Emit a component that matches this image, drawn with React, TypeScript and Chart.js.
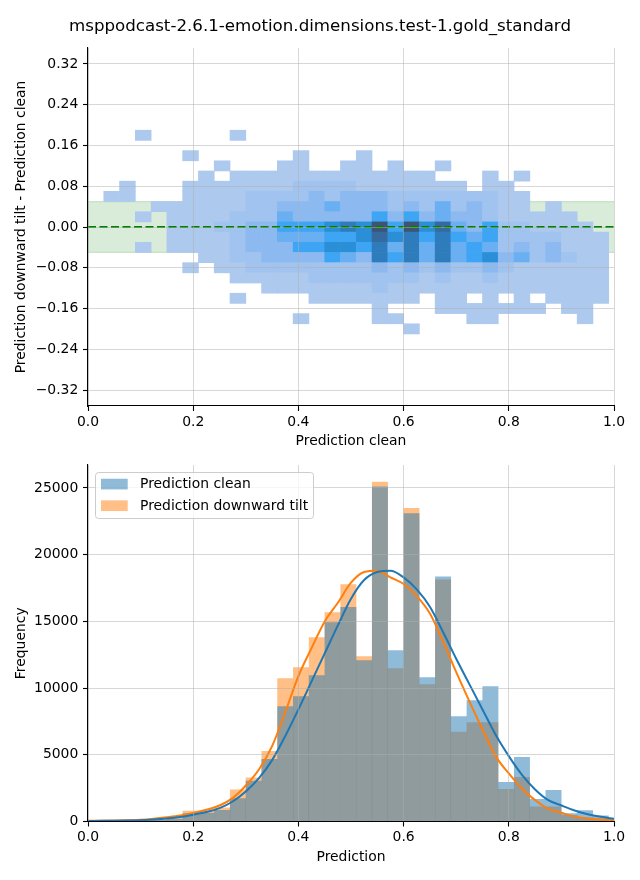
import React, { useEffect, useRef } from "react";
import { Chart, registerables } from "chart.js";

Chart.register(...registerables);

const FONT_FAMILY = "'DejaVu Sans', 'Liberation Sans', Arial, sans-serif";
const FS = 13.9;
const GRID_COLOR = "rgba(176,176,176,0.5)";

// ---------- texts ----------
const titleText = "msppodcast-2.6.1-emotion.dimensions.test-1.gold_standard";
const seriesNames = ["Prediction clean", "Prediction downward tilt"];

// ---------- ticks ----------
const xTicks = [0, 0.2, 0.4, 0.6, 0.8, 1.0];
const diffTicks = [-0.32, -0.24, -0.16, -0.08, 0, 0.08, 0.16, 0.24, 0.32];
const freqTicks = [0, 5000, 10000, 15000, 20000, 25000];

// ---------- bins ----------
const binWidth = 0.03; // x bins of both plots
const diffBinHeight = 0.02; // y bins of the 2D histogram

// ---------- 2D histogram (top) ----------
const diffRowCenters = [
  0.18, 0.16, 0.14, 0.12, 0.1, 0.08, 0.06, 0.04, 0.02, 0.0,
  -0.02, -0.04, -0.06, -0.08, -0.1, -0.12, -0.14, -0.16, -0.18, -0.2,
];
// each row: segments [first x-bin index, density levels 1..9 for consecutive bins]
const heatRows: [number, string][][] = [
  [[3, "1"], [9, "1"]],
  [],
  [[6, "1"], [13, "1"], [17, "1"]],
  [[8, "1"], [12, "11"], [16, "11"], [19, "1"], [22, "1"]],
  [[7, "1"], [9, "1111111111111"], [25, "1"], [27, "1"]],
  [[2, "1"], [6, "111111122221111111"], [25, "11"]],
  [[1, "11"], [6, "1111222232333222222211"]],
  [[4, "111111223334333232423211"], [29, "1"]],
  [[3, "1"], [5, "11112224333335353433211111"]],
  [[5, "111223355567695968435221111"]],
  [[5, "1111233444556867575452222111"]],
  [[3, "1"], [5, "1111233355665747474542323111"]],
  [[7, "11223333543757474563423211"]],
  [[6, "1"], [8, "1122222222323232232111111"]],
  [[9, "111112222222121121111111"]],
  [[11, "1111111211111111111111"]],
  [[9, "1"], [14, "1111111"], [22, "11"], [25, "1"], [27, "1"], [29, "1111"]],
  [[18, "1"], [22, "1111111"], [30, "11"]],
  [[13, "1"], [18, "11"], [24, "11"], [31, "1"]],
  [[20, "1"]],
];
const levelColors = [
  "#adc9ee", "#a0c3ef", "#8cbaf0", "#6aaff2", "#3ea5f5",
  "#2b8fd8", "#2f7cbc", "#366a9f", "#3d5473",
];
const bandHalfWidth = 0.05;

// ---------- 1D histograms (bottom) ----------
const cleanCounts = [
  15, 25, 40, 70, 120, 200, 620, 640, 860, 1730, 3050, 4680, 8640, 9390, 10960,
  14920, 16070, 12080, 25100, 12830, 23100, 10800, 18360, 7880, 9090, 10130,
  2950, 4830, 1680, 2360, 620, 830, 450, 250,
];
const tiltCounts = [
  20, 30, 50, 90, 150, 260, 790, 800, 1035, 2400, 3300, 5270, 10730, 11560,
  13800, 15670, 17770, 12380, 25470, 11480, 23500, 10290, 18140, 6720, 7440,
  7440, 2430, 3330, 1110, 1110, 480, 300, 200, 100,
];
const kdeX = [
  0, 0.025, 0.05, 0.075, 0.1, 0.125, 0.15, 0.175, 0.2, 0.225, 0.25, 0.275, 0.3,
  0.325, 0.35, 0.375, 0.4, 0.425, 0.45, 0.475, 0.5, 0.525, 0.55, 0.575, 0.6,
  0.625, 0.65, 0.675, 0.7, 0.725, 0.75, 0.775, 0.8, 0.825, 0.85, 0.875, 0.9,
  0.925, 0.95, 0.975, 1.0,
];
const kdeClean = [
  40, 50, 60, 75, 100, 155, 230, 340, 510, 710, 1000, 1500, 2250, 3250, 4600,
  6400, 8400, 10500, 12600, 14700, 16700, 18100, 18700, 18800, 18300, 17400,
  16100, 14200, 12200, 10300, 8400, 6500, 4900, 3500, 2400, 1600, 1200, 830,
  550, 350, 200,
];
const kdeTilt = [
  50, 60, 75, 95, 130, 210, 320, 450, 640, 880, 1200, 1750, 2700, 3900, 5650,
  8200, 10900, 13000, 15000, 16400, 17900, 18700, 18800, 18300, 17800, 16900,
  15600, 13500, 11200, 9000, 6900, 4900, 3600, 2450, 1600, 950, 650, 380, 220,
  150, 100,
];

const BLUE = "#1f77b4";
const ORANGE = "#ff7f0e";
const BLUE_A = "rgba(31,119,180,0.5)";
const ORANGE_A = "rgba(255,127,14,0.5)";

function fmtMinus(s: string) {
  return s.replace("-", "\u2212");
}

function xScale(title: string, axisHeight: number, titlePadBottom: number) {
  return {
    type: "linear",
    min: 0,
    max: 1,
    offset: false,
    grid: {
      offset: false,
      color: GRID_COLOR,
      lineWidth: 1,
      z: 1,
      drawTicks: true,
      tickLength: 5,
      tickColor: "#000",
      tickWidth: 1.1,
    },
    border: { display: true, color: "#000", width: 1.1, z: 2 },
    ticks: {
      autoSkip: false,
      maxRotation: 0,
      padding: 3,
      color: "#000",
      font: { size: FS, family: FONT_FAMILY },
      callback: (v: any) => Number(v).toFixed(1),
    },
    afterBuildTicks: (s: any) => {
      s.ticks = xTicks.map((v) => ({ value: v }));
    },
    afterFit: (s: any) => {
      s.height = axisHeight;
    },
    title: {
      display: true,
      text: title,
      color: "#000",
      font: { size: FS, family: FONT_FAMILY },
      padding: { top: 0, bottom: titlePadBottom },
    },
  };
}

function yScale(
  title: string,
  min: number,
  max: number,
  tickVals: number[],
  fmt: (v: number) => string
) {
  return {
    type: "linear",
    min,
    max,
    grid: {
      color: GRID_COLOR,
      lineWidth: 1,
      z: 1,
      drawTicks: true,
      tickLength: 5,
      tickColor: "#000",
      tickWidth: 1.1,
    },
    border: { display: true, color: "#000", width: 1.1, z: 2 },
    ticks: {
      autoSkip: false,
      padding: 4.7,
      color: "#000",
      font: { size: FS, family: FONT_FAMILY },
      callback: (v: any) => fmt(Number(v)),
    },
    afterBuildTicks: (s: any) => {
      s.ticks = tickVals.map((v) => ({ value: v }));
    },
    afterFit: (s: any) => {
      s.width = 88;
    },
    title: {
      display: true,
      text: title,
      color: "#000",
      font: { size: FS, family: FONT_FAMILY },
      padding: { top: 12.7, bottom: 0 },
    },
  };
}

const boxLegend = {
  id: "boxLegend",
  afterDraw(chart: any) {
    const { ctx, chartArea } = chart;
    const x0 = chartArea.left + 7.5;
    const y0 = chartArea.top + 7.5;
    const w = 218;
    const h = 46;
    const items = [
      { label: seriesNames[0], color: BLUE_A },
      { label: seriesNames[1], color: ORANGE_A },
    ];
    ctx.save();
    ctx.beginPath();
    if (ctx.roundRect) ctx.roundRect(x0, y0, w, h, 3);
    else ctx.rect(x0, y0, w, h);
    ctx.fillStyle = "rgba(255,255,255,0.8)";
    ctx.fill();
    ctx.lineWidth = 1;
    ctx.strokeStyle = "#cccccc";
    ctx.stroke();
    items.forEach((it, i) => {
      const py = y0 + 6.2 + i * 21.6;
      ctx.fillStyle = it.color;
      ctx.fillRect(x0 + 5.5, py, 26.7, 10.7);
      ctx.fillStyle = "#000";
      ctx.font = `${FS}px ${FONT_FAMILY}`;
      ctx.textBaseline = "middle";
      ctx.textAlign = "left";
      ctx.fillText(it.label, x0 + 44.5, py + 5.6);
    });
    ctx.restore();
  },
};

export default function App() {
  const topRef = useRef<HTMLCanvasElement>(null);
  const botRef = useRef<HTMLCanvasElement>(null);

  useEffect(() => {
    Chart.defaults.font.family = FONT_FAMILY;
    Chart.defaults.font.size = FS;
    Chart.defaults.color = "#000";

    // --- build heat cells ---
    const cells: any[] = [];
    const cellColors: string[] = [];
    heatRows.forEach((segs, r) => {
      const v = diffRowCenters[r];
      segs.forEach(([start, lv]) => {
        for (let i = 0; i < lv.length; i++) {
          const k = start + i;
          cells.push({
            x: (k + 0.5) * binWidth,
            y: [v - diffBinHeight / 2, v + diffBinHeight / 2],
          });
          cellColors.push(levelColors[Number(lv[i]) - 1]);
        }
      });
    });

    const top = new Chart(topRef.current as HTMLCanvasElement, {
      type: "bar",
      data: {
        datasets: [
          {
            type: "line",
            label: "zero",
            data: [
              { x: 0, y: 0 },
              { x: 1, y: 0 },
            ],
            borderColor: "#008000",
            borderWidth: 2,
            borderDash: [8, 3.5],
            pointRadius: 0,
            fill: false,
            order: 0,
          } as any,
          {
            type: "bar",
            label: "2D histogram",
            data: cells,
            backgroundColor: cellColors,
            borderWidth: 0,
            grouped: false,
            barPercentage: 1,
            categoryPercentage: 1,
            order: 1,
          } as any,
          {
            type: "line",
            label: "band",
            data: [
              { x: 0, y: bandHalfWidth },
              { x: 1, y: bandHalfWidth },
            ],
            borderColor: "rgba(0,128,0,0.15)",
            borderWidth: 1.3,
            backgroundColor: "rgba(0,128,0,0.15)",
            fill: { value: -bandHalfWidth },
            pointRadius: 0,
            order: 2,
          } as any,
          {
            type: "line",
            label: "band-edge",
            data: [
              { x: 0, y: -bandHalfWidth },
              { x: 1, y: -bandHalfWidth },
            ],
            borderColor: "rgba(0,128,0,0.15)",
            borderWidth: 1.3,
            fill: false,
            pointRadius: 0,
            order: 2,
          } as any,
        ],
      },
      options: {
        responsive: false,
        animation: false,
        events: [],
        layout: { padding: { top: 48, right: 26, bottom: 0, left: 0 } },
        plugins: {
          legend: { display: false },
          tooltip: { enabled: false },
          title: { display: false },
        },
        scales: {
          x: xScale("Prediction clean", 46, 2.7) as any,
          y: yScale(
            "Prediction downward tilt - Prediction clean",
            -0.3514,
            0.3514,
            diffTicks,
            (v) => (Math.abs(v) < 1e-9 ? "0.00" : fmtMinus(v.toFixed(2)))
          ) as any,
        },
      },
    });

    const bot = new Chart(botRef.current as HTMLCanvasElement, {
      type: "bar",
      data: {
        datasets: [
          {
            type: "line",
            label: seriesNames[0] + " KDE",
            data: kdeX.map((x, i) => ({ x, y: kdeClean[i] })),
            borderColor: BLUE,
            borderWidth: 2,
            pointRadius: 0,
            cubicInterpolationMode: "monotone",
            fill: false,
            order: 0,
          } as any,
          {
            type: "line",
            label: seriesNames[1] + " KDE",
            data: kdeX.map((x, i) => ({ x, y: kdeTilt[i] })),
            borderColor: ORANGE,
            borderWidth: 2,
            pointRadius: 0,
            cubicInterpolationMode: "monotone",
            fill: false,
            order: 1,
          } as any,
          {
            type: "bar",
            label: seriesNames[0],
            data: cleanCounts.map((c, i) => ({ x: (i + 0.5) * binWidth, y: c })),
            backgroundColor: BLUE_A,
            borderWidth: 0,
            inflateAmount: 0.09,
            grouped: false,
            barPercentage: 1,
            categoryPercentage: 1,
            order: 2,
          } as any,
          {
            type: "bar",
            label: seriesNames[1],
            data: tiltCounts.map((c, i) => ({ x: (i + 0.5) * binWidth, y: c })),
            backgroundColor: ORANGE_A,
            borderWidth: 0,
            inflateAmount: 0.09,
            grouped: false,
            barPercentage: 1,
            categoryPercentage: 1,
            order: 3,
          } as any,
        ],
      },
      options: {
        responsive: false,
        animation: false,
        events: [],
        layout: { padding: { top: 12, right: 26, bottom: 0, left: 0 } },
        plugins: {
          legend: { display: false },
          tooltip: { enabled: false },
          title: { display: false },
        },
        scales: {
          x: xScale("Prediction", 58.5, 14.7) as any,
          y: yScale("Frequency", 0, 26720, freqTicks, (v) => String(Math.round(v))) as any,
        },
      },
      plugins: [boxLegend],
    });

    return () => {
      top.destroy();
      bot.destroy();
    };
  }, []);

  return (
    <div
      style={{
        position: "absolute",
        left: 0,
        top: 0,
        width: 640,
        height: 880,
        background: "#fff",
        overflow: "hidden",
      }}
    >
      <canvas
        ref={topRef}
        width={640}
        height={452}
        style={{ position: "absolute", left: 0, top: 0, display: "block" }}
      />
      <canvas
        ref={botRef}
        width={640}
        height={428}
        style={{ position: "absolute", left: 0, top: 452, display: "block" }}
      />
      <div
        style={{
          position: "absolute",
          left: 0,
          top: 16,
          width: 640,
          height: 20,
          lineHeight: "20px",
          textAlign: "center",
          fontFamily: FONT_FAMILY,
          fontSize: 16.67,
          color: "#000",
          whiteSpace: "nowrap",
        }}
      >
        {titleText}
      </div>
    </div>
  );
}
